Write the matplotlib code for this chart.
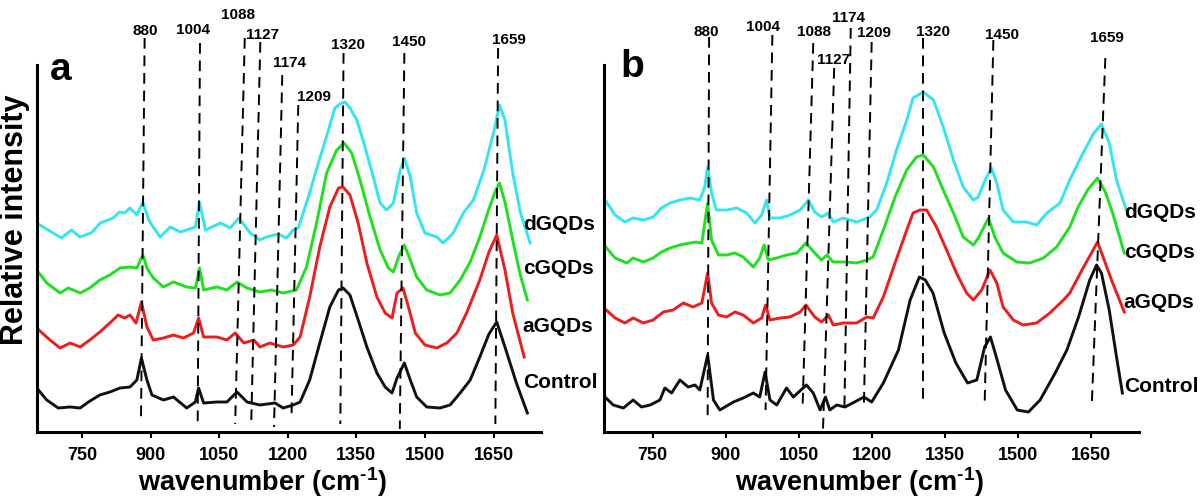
import matplotlib.pyplot as plt

plt.rcParams['font.family'] = ['Liberation Sans', 'DejaVu Sans']
plt.rcParams['font.weight'] = 'bold'
plt.rcParams['mathtext.fontset'] = 'custom'
plt.rcParams['mathtext.rm'] = 'Liberation Sans:bold'
plt.rcParams['mathtext.bf'] = 'Liberation Sans:bold'
plt.rcParams['mathtext.default'] = 'bf'

# ---- panel a spectra (wavenumber, relative intensity incl. stacking) ----
a_ctrl_x = [651, 673, 698, 724, 746, 764, 789, 811, 833, 855, 870, 880, 892, 903, 928, 950, 979, 998,
            1005, 1016, 1045, 1067, 1089, 1111, 1139, 1172, 1190, 1212, 1227, 1248, 1270, 1292, 1311,
            1321, 1336, 1354, 1373, 1395, 1413, 1428, 1439, 1455, 1468, 1482, 1504, 1533, 1555, 1577,
            1599, 1620, 1640, 1657, 1675, 1700, 1724]
a_ctrl_y = [4.4, 3.2, 2.4, 2.5, 2.4, 3.0, 3.7, 4.0, 4.4, 4.5, 5.2, 7.4, 5.2, 3.7, 3.2, 3.5, 2.4, 3.0,
            4.4, 2.9, 3.0, 3.0, 4.0, 3.0, 2.7, 2.9, 2.4, 2.7, 3.0, 5.2, 8.9, 12.5, 14.2,
            14.4, 13.7, 11.2, 8.5, 5.9, 4.5, 3.9, 5.4, 6.9, 5.2, 3.5, 2.5, 2.4, 2.7, 3.9,
            5.2, 7.5, 9.8, 11.0, 8.5, 4.9, 1.9]

a_agqd_x = [651, 680, 702, 724, 746, 767, 789, 811, 829, 843, 855, 868, 880, 892, 906, 928, 950, 972,
            994, 1005, 1016, 1045, 1067, 1085, 1104, 1126, 1139, 1161, 1190, 1212, 1227, 1248, 1270,
            1292, 1311, 1321, 1336, 1354, 1373, 1395, 1413, 1428, 1439, 1452, 1464, 1479, 1500, 1526,
            1548, 1570, 1591, 1620, 1640, 1657, 1675, 1692, 1717]
a_agqd_y = [10.4, 9.2, 8.4, 8.9, 8.5, 9.2, 10.0, 10.9, 11.7, 11.4, 11.7, 10.9, 13.0, 10.5, 9.2, 9.4, 9.7, 9.4,
            9.9, 11.4, 9.5, 9.5, 9.2, 9.9, 8.9, 9.2, 8.5, 8.9, 8.5, 8.7, 9.5, 13.5, 18.5,
            22.5, 24.4, 24.5, 23.7, 20.9, 16.9, 13.5, 11.9, 11.4, 13.9, 14.4, 12.5, 9.9, 8.7, 8.4,
            8.9, 9.9, 11.9, 15.2, 18.0, 19.7, 16.2, 11.9, 7.5]

a_cgqd_x = [651, 673, 702, 720, 746, 767, 789, 811, 833, 855, 870, 883, 892, 906, 928, 950, 979, 998,
            1007, 1016, 1045, 1067, 1089, 1111, 1139, 1165, 1190, 1219, 1241, 1263, 1285, 1307, 1323,
            1340, 1358, 1380, 1402, 1420, 1431, 1442, 1455, 1468, 1482, 1504, 1533, 1555, 1577, 1599,
            1620, 1640, 1655, 1663, 1675, 1692, 1708, 1724]
a_cgqd_y = [16.2, 14.9, 13.9, 14.4, 13.9, 14.4, 15.2, 15.7, 16.4, 16.5, 16.4, 17.7, 16.4, 15.4, 14.5, 15.0, 14.5, 14.4,
            16.4, 14.2, 14.5, 14.2, 15.0, 14.4, 14.0, 14.2, 13.9, 14.2, 16.5, 20.9, 25.9, 28.2, 28.9,
            27.9, 25.2, 21.5, 18.2, 16.4, 16.0, 17.5, 18.7, 17.2, 15.5, 14.2, 13.7, 13.9, 15.2, 17.0,
            19.5, 22.3, 24.2, 24.9, 23.0, 19.2, 15.8, 13.2]

a_dgqd_x = [651, 705, 727, 745, 770, 790, 818, 832, 843, 855, 870, 883, 896, 910, 921, 943, 965, 998,
            1007, 1020, 1053, 1074, 1093, 1118, 1139, 1153, 1179, 1197, 1212, 1223, 1245, 1267, 1289,
            1303, 1314, 1325, 1336, 1351, 1369, 1387, 1402, 1416, 1431, 1446, 1455, 1468, 1482, 1500,
            1526, 1540, 1562, 1584, 1606, 1629, 1650, 1663, 1675, 1692, 1709, 1730]
a_dgqd_y = [20.9, 19.4, 20.2, 19.5, 19.9, 20.9, 21.4, 22.0, 21.9, 22.4, 21.7, 23.0, 21.2, 20.2, 19.5, 20.5, 20.0, 20.5,
            23.0, 20.2, 20.9, 20.4, 21.4, 19.9, 19.2, 19.5, 19.8, 19.4, 20.2, 20.4, 23.5, 26.9, 30.2,
            32.4, 32.8, 33.0, 32.4, 31.2, 28.5, 25.5, 22.9, 22.2, 22.9, 26.2, 27.4, 25.5, 21.9, 19.9,
            19.5, 18.9, 19.9, 21.9, 23.2, 26.2, 29.9, 32.7, 31.2, 25.9, 21.9, 18.9]

# ---- panel b spectra ----
b_ctrl_x = [652, 669, 690, 710, 727, 745, 765, 775, 789, 806, 823, 837, 847, 863, 875, 888, 916, 936,
            957, 970, 981, 991, 1005, 1025, 1039, 1066, 1080, 1094, 1105, 1114, 1128, 1145, 1161, 1184,
            1200, 1224, 1255, 1279, 1298, 1310, 1326, 1349, 1373, 1397, 1416, 1432, 1444, 1456, 1475,
            1499, 1522, 1546, 1577, 1601, 1625, 1648, 1662, 1672, 1688, 1703, 1715]
b_ctrl_y = [3.5, 2.7, 2.4, 3.2, 2.5, 2.7, 3.2, 4.4, 3.9, 5.2, 4.5, 4.7, 4.2, 7.7, 3.2, 2.2, 3.0, 3.4,
            3.9, 3.5, 6.0, 3.2, 2.7, 4.4, 3.5, 4.7, 3.9, 2.2, 3.5, 2.2, 2.7, 2.5, 2.9, 3.5,
            3.0, 4.9, 8.2, 13.2, 15.5, 15.2, 13.9, 9.9, 6.9, 4.9, 5.2, 8.5, 9.5, 7.5, 4.2,
            2.2, 2.0, 3.2, 5.9, 8.2, 11.5, 15.2, 16.7, 15.9, 12.2, 7.5, 3.9]

b_agqd_x = [650, 673, 693, 710, 731, 751, 772, 792, 813, 833, 851, 863, 871, 885, 902, 919, 936, 957,
            974, 982, 991, 1012, 1032, 1053, 1065, 1083, 1097, 1111, 1121, 1142, 1169, 1190, 1203, 1224,
            1248, 1272, 1285, 1299, 1313, 1333, 1354, 1374, 1395, 1409, 1426, 1443, 1457, 1470, 1491,
            1511, 1539, 1566, 1594, 1607, 1632, 1664, 1695, 1719]
b_agqd_y = [12.4, 11.4, 10.9, 11.4, 10.9, 11.2, 12.0, 12.2, 12.9, 12.5, 12.9, 15.9, 12.9, 11.7, 11.5, 12.0, 11.7, 10.9,
            11.4, 12.7, 11.2, 11.4, 11.5, 12.0, 12.7, 11.5, 11.0, 11.7, 10.7, 10.9, 10.9, 11.5, 11.4, 13.5,
            16.9, 20.2, 21.9, 22.2, 22.2, 20.5, 18.2, 15.9, 13.9, 13.2, 14.2, 16.2, 14.9, 12.5, 11.2,
            10.7, 10.9, 11.9, 13.2, 13.9, 16.2, 19.0, 14.9, 12.0]

b_cgqd_x = [650, 673, 697, 710, 731, 751, 768, 786, 806, 827, 840, 851, 863, 871, 885, 902, 919, 936,
            957, 970, 979, 988, 1005, 1025, 1046, 1065, 1083, 1097, 1108, 1121, 1149, 1169, 1190, 1203,
            1224, 1248, 1272, 1292, 1306, 1327, 1347, 1368, 1388, 1409, 1419, 1440, 1453, 1470, 1498,
            1525, 1553, 1580, 1607, 1624, 1645, 1664, 1680, 1695, 1719]
b_cgqd_y = [18.7, 17.4, 16.9, 17.4, 17.0, 17.4, 18.0, 18.4, 18.7, 18.9, 19.0, 18.9, 22.9, 19.2, 17.7, 17.7, 17.9, 17.5,
            16.5, 17.4, 18.7, 17.2, 17.4, 17.7, 17.9, 18.9, 17.9, 17.2, 17.7, 17.0, 17.0, 16.9, 17.2, 17.5,
            20.2, 23.5, 26.2, 27.5, 27.7, 26.5, 24.2, 21.9, 19.5, 18.7, 19.4, 21.4, 19.5, 17.9, 17.0,
            16.9, 17.4, 18.5, 20.5, 22.5, 24.3, 25.4, 24.0, 21.9, 17.9]

b_dgqd_x = [655, 673, 693, 710, 731, 751, 768, 786, 806, 827, 847, 857, 863, 871, 881, 902, 923, 943,
            960, 974, 984, 991, 1012, 1032, 1053, 1070, 1083, 1097, 1111, 1121, 1142, 1169, 1196, 1210,
            1231, 1251, 1272, 1285, 1306, 1327, 1347, 1368, 1388, 1409, 1419, 1433, 1446, 1457, 1470,
            1491, 1518, 1539, 1560, 1587, 1607, 1630, 1655, 1672, 1688, 1703, 1723]
b_dgqd_y = [23.0, 21.7, 21.0, 21.4, 21.2, 21.5, 22.4, 22.9, 23.2, 23.4, 23.2, 24.5, 26.5, 23.9, 22.2, 22.2, 22.4, 21.9,
            20.9, 21.7, 23.2, 21.4, 21.4, 21.7, 22.2, 23.2, 22.0, 21.5, 21.9, 21.0, 21.4, 21.0, 21.5, 22.2,
            24.9, 28.2, 31.2, 33.4, 34.0, 33.2, 30.5, 27.2, 24.5, 23.2, 23.5, 25.2, 26.4, 24.9, 22.2,
            21.0, 21.0, 20.7, 21.9, 22.9, 25.2, 27.5, 29.8, 30.8, 28.9, 25.2, 22.2]

# ---- peak assignments (dashed guide lines) ----
peak_labels = ["880", "1004", "1088", "1127", "1174", "1209", "1320", "1450", "1659"]

a_line_top_x = [887, 1008, 1106, 1140, 1188, 1223, 1322, 1455, 1660]
a_line_bot_x = [879, 1003, 1085, 1120, 1170, 1208, 1315, 1445, 1654]
a_line_top_y = [39.4, 38.9, 39.4, 39.0, 35.7, 32.7, 37.9, 37.9, 38.4]
a_line_bot_y = [0.9, 0.8, 0.8, 0.7, 0.5, 1.2, 0.8, 0.3, 0.8]
a_label_x = [889, 993, 1091, 1144, 1203, 1257, 1332, 1466, 1684]
a_label_y = [40.1, 40.2, 41.7, 39.7, 36.9, 33.5, 38.7, 39.0, 39.2]

b_line_top_x = [866, 996, 1080, 1123, 1157, 1200, 1306, 1450, 1680]
b_line_bot_x = [863, 982, 1058, 1100, 1144, 1184, 1306, 1432, 1652]
b_line_top_y = [39.5, 39.7, 38.9, 36.4, 40.4, 39.0, 39.4, 39.2, 37.4]
b_line_bot_y = [1.5, 2.2, 2.4, 0.2, 2.5, 2.7, 2.9, 2.7, 2.5]
b_label_x = [860, 976, 1082, 1121, 1153, 1204, 1326, 1467, 1683]
b_label_y = [40.0, 40.5, 40.0, 37.2, 41.4, 39.9, 40.0, 39.7, 39.4]

sample_names = ["Control", "aGQDs", "cGQDs", "dGQDs"]
colors = ["#111111", "#ee1c1c", "#1fe01f", "#33e5ef"]
a_name_x = [1714, 1714, 1714, 1714]
a_name_y = [5.0, 10.5, 16.4, 20.7]
b_name_x = [1718, 1718, 1718, 1718]
b_name_y = [4.5, 12.9, 17.9, 21.9]

xticks = [750, 900, 1050, 1200, 1350, 1500, 1650]


def draw_panel(ax, curves, line_top_x, line_bot_x, line_top_y, line_bot_y,
               label_x, label_y, name_x, name_y, letter, letter_pos, xlim, xlabel_x):
    for (x, y), c in zip(curves, colors):
        ax.plot(x, y, color=c, lw=2.1, zorder=2)
    for i, lab in enumerate(peak_labels):
        ax.plot([line_top_x[i], line_bot_x[i]], [line_top_y[i], line_bot_y[i]],
                color='k', lw=1.4, ls=(0, (5.5, 3.5)), zorder=3, clip_on=False)
        ax.text(label_x[i], label_y[i], lab, fontsize=11, fontweight='bold',
                ha='center', va='center')
    for i, name in enumerate(sample_names):
        ax.text(name_x[i], name_y[i], name, fontsize=15, fontweight='bold',
                ha='left', va='center')
    ax.text(letter_pos[0], letter_pos[1], letter, transform=ax.transAxes, fontsize=28,
            fontweight='bold', ha='center', va='center')

    ax.set_xlim(*xlim)
    ax.set_ylim(0, 43.2)
    ax.set_xticks(xticks)
    ax.set_yticks([])
    ax.tick_params(axis='x', direction='out', length=4, width=1.5, pad=7, labelsize=13)
    for s in ['top', 'right']:
        ax.spines[s].set_visible(False)
    ax.spines['left'].set_linewidth(2.2)
    ax.spines['bottom'].set_linewidth(2.2)
    ax.spines['left'].set_bounds(0, 36.7)
    ax.set_xlabel(r"wavenumber (cm$^{\text{-1}}$)", fontsize=19.5, fontweight='bold')
    ax.xaxis.set_label_coords(xlabel_x, -0.076)
    ax.xaxis.label.set_va('top')


fig = plt.figure(figsize=(12, 5), dpi=100)
ax_a = fig.add_axes([0.0306, 0.136, 0.4203, 0.864])
ax_b = fig.add_axes([0.5033, 0.136, 0.4458, 0.864])

draw_panel(ax_a,
           [(a_ctrl_x, a_ctrl_y), (a_agqd_x, a_agqd_y), (a_cgqd_x, a_cgqd_y), (a_dgqd_x, a_dgqd_y)],
           a_line_top_x, a_line_bot_x, a_line_top_y, a_line_bot_y,
           a_label_x, a_label_y, a_name_x, a_name_y, "a", (0.048, 0.838), (651, 1754), 0.447)
draw_panel(ax_b,
           [(b_ctrl_x, b_ctrl_y), (b_agqd_x, b_agqd_y), (b_cgqd_x, b_cgqd_y), (b_dgqd_x, b_dgqd_y)],
           b_line_top_x, b_line_bot_x, b_line_top_y, b_line_bot_y,
           b_label_x, b_label_y, b_name_x, b_name_y, "b", (0.053, 0.845), (650, 1749), 0.477)

fig.text(15 / 1200, 1 - 220 / 500, "Relative intensity", rotation=90, fontsize=22,
         fontweight='bold', ha='center', va='center')

fig.savefig("out.png", dpi=100)
